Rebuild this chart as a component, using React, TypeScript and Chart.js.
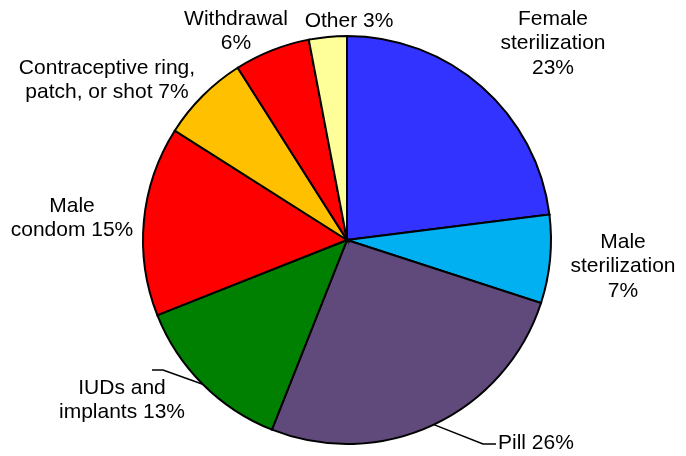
import React, { useEffect, useRef } from "react";
import { Chart, registerables } from "chart.js";

Chart.register(...registerables);

const categories = [
  "Female sterilization",
  "Male sterilization",
  "Pill",
  "IUDs and implants",
  "Male condom",
  "Contraceptive ring, patch, or shot",
  "Withdrawal",
  "Other",
];
const shares = [23, 7, 26, 13, 15, 7, 6, 3];
const colors = ["#3333FF", "#00B0F0", "#604A7B", "#008000", "#FF0000", "#FFC000", "#FF0000", "#FFFF99"];
const labelLines = [
  ["Female", "sterilization", "23%"],
  ["Male", "sterilization", "7%"],
  ["Pill 26%"],
  ["IUDs and", "implants 13%"],
  ["Male", "condom 15%"],
  ["Contraceptive ring,", "patch, or shot 7%"],
  ["Withdrawal", "6%"],
  ["Other 3%"],
];

// label layout (text anchor x, first-line y, alignment, optional leader elbow/end)
const labelLayout: any[] = [
  { x: 553, y: 19, align: "center" },
  { x: 623, y: 242, align: "center" },
  { x: 498, y: 443, align: "left", elbow: [483, 444], end: [496, 444] },
  { x: 122, y: 388, align: "center", elbow: [163, 370], end: [152, 370] },
  { x: 72, y: 206, align: "center" },
  { x: 107, y: 68, align: "center" },
  { x: 236, y: 19, align: "center" },
  { x: 349, y: 21, align: "center" },
];

const labelPlugin = {
  id: "pieLabels",
  afterDraw(chart: any) {
    const ctx = chart.ctx;
    const meta = chart.getDatasetMeta(0);
    ctx.save();
    ctx.font = "21px 'Liberation Sans', Arial, sans-serif";
    ctx.fillStyle = "#000";
    ctx.textBaseline = "middle";
    meta.data.forEach((arc: any, i: number) => {
      const lay = labelLayout[i];
      if (lay.elbow) {
        const mid = (arc.startAngle + arc.endAngle) / 2;
        const sx = arc.x + Math.cos(mid) * arc.outerRadius;
        const sy = arc.y + Math.sin(mid) * arc.outerRadius;
        ctx.beginPath();
        ctx.strokeStyle = "#000";
        ctx.lineWidth = 1.5;
        ctx.moveTo(sx, sy);
        ctx.lineTo(lay.elbow[0], lay.elbow[1]);
        ctx.lineTo(lay.end[0], lay.end[1]);
        ctx.stroke();
      }
      ctx.textAlign = lay.align;
      labelLines[i].forEach((t, k) => {
        ctx.fillText(t, lay.x, lay.y + k * 24.5);
      });
    });
    ctx.restore();
  },
};

export default function App() {
  const ref = useRef<HTMLCanvasElement>(null);
  useEffect(() => {
    if (!ref.current) return;
    const chart = new Chart(ref.current, {
      type: "pie",
      data: {
        labels: categories,
        datasets: [
          {
            data: shares,
            backgroundColor: colors,
            borderColor: "#000",
            borderWidth: 2,
            borderJoinStyle: "miter",
          } as any,
        ],
      },
      options: {
        responsive: false,
        animation: false,
        layout: { padding: { top: 35, bottom: 11, left: 142, right: 134 } },
        plugins: { legend: { display: false }, tooltip: { enabled: false } },
      },
      plugins: [labelPlugin],
    });
    return () => chart.destroy();
  }, []);
  return (
    <div style={{ position: "fixed", left: 0, top: 0, width: 686, height: 456, background: "#fff" }}>
      <canvas ref={ref} width={686} height={456} />
    </div>
  );
}
